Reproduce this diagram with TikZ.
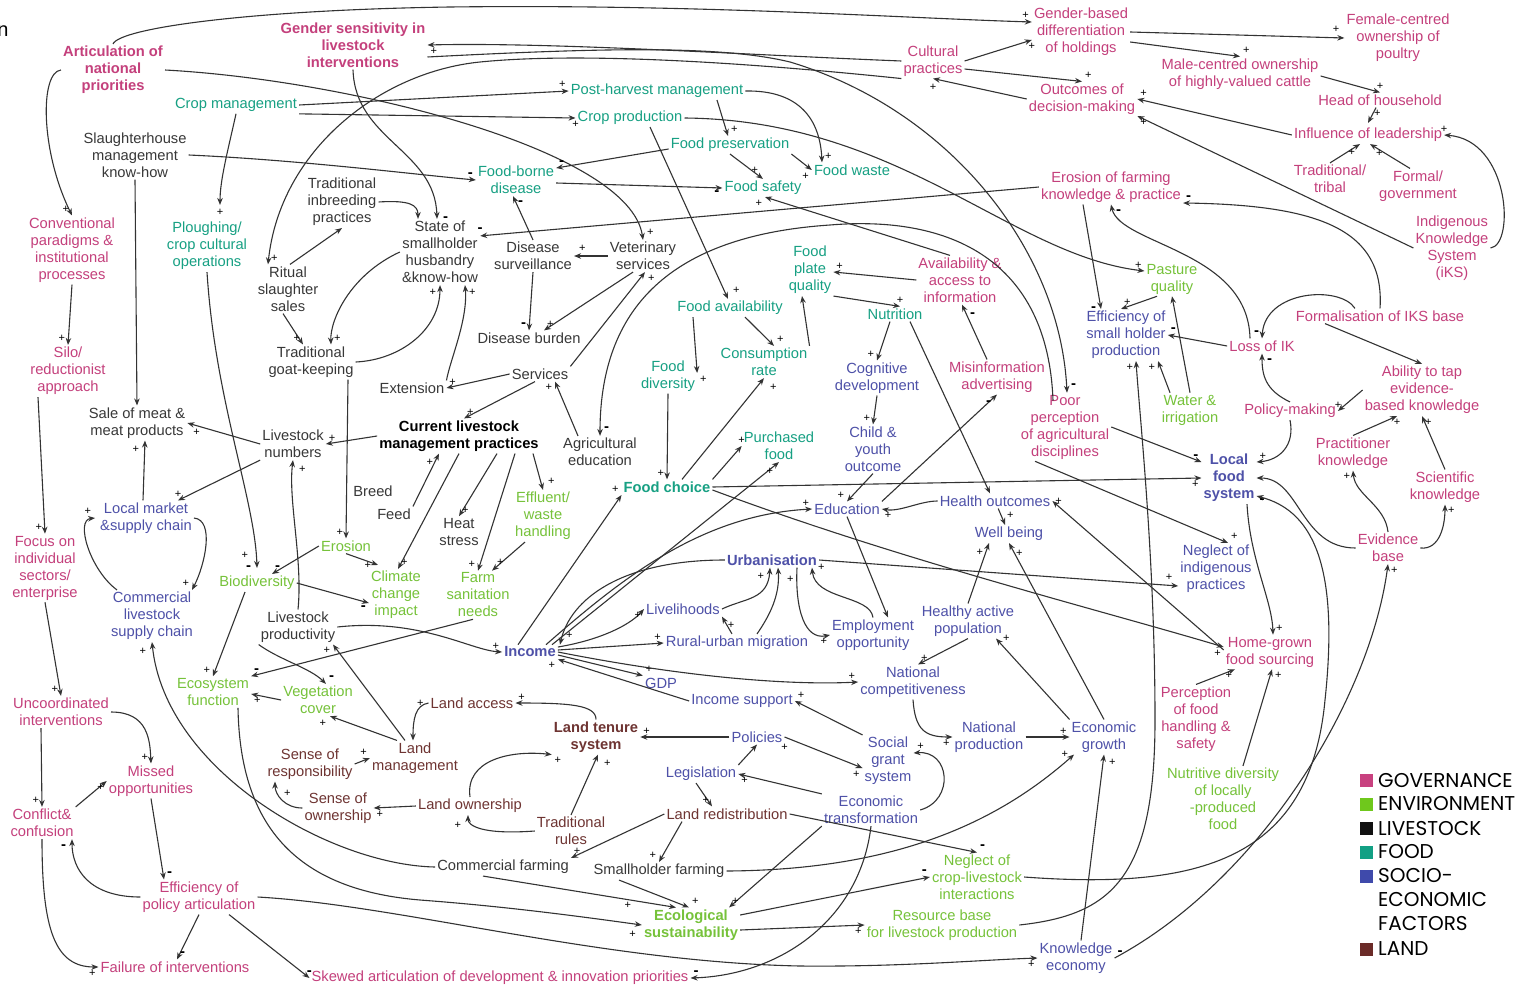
\documentclass[tikz,border=0pt]{standalone}
\usepackage{fontspec}
\setmainfont{Liberation Sans}
\newfontfamily\legendfont{Poppins}
\usetikzlibrary{arrows.meta}
\definecolor{gov}{HTML}{C4407C}
\definecolor{env}{HTML}{76C23A}
\definecolor{liv}{HTML}{383838}
\definecolor{food}{HTML}{17A083}
\definecolor{soc}{HTML}{4E51A8}
\definecolor{land}{HTML}{6E3432}
\definecolor{lgov}{HTML}{C8417F}
\definecolor{lenv}{HTML}{6FC81C}
\definecolor{lliv}{HTML}{111111}
\definecolor{lfood}{HTML}{12A084}
\definecolor{lsoc}{HTML}{3F4AAB}
\definecolor{lland}{HTML}{6B2B28}
\definecolor{arc}{HTML}{333333}
\begin{document}
\begin{tikzpicture}[x=1pt,y=-1pt,
  nd/.style={inner sep=2pt, align=center, font=\fontsize{14.7}{17}\selectfont},
  ndb/.style={inner sep=2pt, align=center, font=\fontsize{14.7}{17}\selectfont\bfseries},
  gv/.style={nd,text=gov}, gvb/.style={ndb,text=gov},
  ev/.style={nd,text=env}, evb/.style={ndb,text=env},
  fd/.style={nd,text=food}, fdb/.style={ndb,text=food},
  lv/.style={nd,text=liv}, lvb/.style={ndb,text=black},
  se/.style={nd,text=soc}, seb/.style={ndb,text=soc},
  ld/.style={nd,text=land}, ldb/.style={ndb,text=land},
  ar/.style={draw=arc, line width=1.1pt, -{Stealth[length=7pt,width=5.5pt]}},
  pl/.style={inner sep=1pt, outer sep=2pt, text=black, font=\fontsize{11}{11}\selectfont},
  mi/.style={inner sep=1pt, outer sep=2pt, text=black, font=\fontsize{15}{15}\selectfont\bfseries},
  lgsq/.style={minimum size=13pt, inner sep=0pt},
  lgtx/.style={inner sep=0pt, anchor=west, align=left, text=black, font=\fontsize{20}{24}\legendfont}
]
\fill[white] (0,0) rectangle (1522,990);
\useasboundingbox (0,0) rectangle (1522,990);

\node[inner sep=0pt, font=\fontsize{20}{20}\selectfont] (frag) at (3,31) {n};

% ---------- governance ----------
\node[gvb] (artic) at (113,70) {Articulation of\\national\\priorities};
\node[gvb] (gendsens) at (353,45) {Gender sensitivity in\\livestock\\interventions};
\node[gv] (gendbased) at (1081,32) {Gender-based\\differentiation\\of holdings};
\node[gv] (female) at (1398,38) {Female-centred\\ownership of\\poultry};
\node[gv] (cultural) at (933,61) {Cultural\\practices};
\node[gv] (male) at (1240,74) {Male-centred ownership\\of highly-valued cattle};
\node[gv] (outcomes) at (1082,99) {Outcomes of\\decision-making};
\node[gv] (head) at (1380,100) {Head of household};
\node[gv] (influence) at (1368,135) {Influence of leadership};
\node[gv] (tradtribal) at (1330,179) {Traditional/\\tribal};
\node[gv] (formal) at (1418,186) {Formal/\\government};
\node[gv] (erosionfk) at (1111,187) {Erosion of farming\\knowledge \& practice};
\node[gv] (iks) at (1452,248) {Indigenous\\Knowledge\\System\\(iKS)};
\node[gv] (formiks) at (1380,316) {Formalisation of IKS base};
\node[gv] (lossik) at (1262,346) {Loss of IK};
\node[gv] (policymk) at (1290,411) {Policy-making};
\node[gv] (ability) at (1422,390) {Ability to tap\\evidence-\\based knowledge};
\node[gv] (practk) at (1353,453) {Practitioner\\knowledge};
\node[gv] (scik) at (1445,487) {Scientific\\knowledge};
\node[gv] (evid) at (1388,548) {Evidence\\base};
\node[gv] (homegrown) at (1270,652) {Home-grown\\food sourcing};
\node[gv] (percep) at (1196,719) {Perception\\of food\\handling \&\\safety};
\node[gv] (avail) at (960,280) {Availability \&\\access to\\information};
\node[gv] (misinfo) at (997,377) {Misinformation\\advertising};
\node[gv] (poorperc) at (1065,427) {Poor\\perception\\of agricultural\\disciplines};
\node[gv] (conv) at (72,250) {Conventional\\paradigms \&\\institutional\\processes};
\node[gv] (silo) at (68,371) {Silo/\\reductionist\\approach};
\node[gv] (focus) at (45,568) {Focus on\\individual\\sectors/\\enterprise};
\node[gv] (uncoord) at (61,712) {Uncoordinated\\interventions};
\node[gv] (missed) at (151,781) {Missed\\opportunities};
\node[gv] (conflict) at (42,823) {Conflict\&\\confusion};
\node[gv] (effpol) at (199,897) {Efficiency of\\policy articulation};
\node[gv] (failure) at (175,967) {Failure of interventions};
\node[gv] (skewed) at (500,978) {Skewed articulation of development \& innovation priorities};

% ---------- environment ----------
\node[ev] (pasture) at (1172,279) {Pasture\\quality};
\node[ev] (water) at (1190,410) {Water \&\\irrigation};
\node[ev] (effluent) at (543,516) {Effluent/\\waste\\handling};
\node[ev] (erosion) at (346,546) {Erosion};
\node[ev] (biodiv) at (257,583) {Biodiversity};
\node[ev] (climate) at (396,595) {Climate\\change\\impact};
\node[ev] (farmsan) at (478,595) {Farm\\sanitation\\needs};
\node[ev] (ecofunc) at (213,692) {Ecosystem\\function};
\node[ev] (vegcov) at (318,700) {Vegetation\\cover};
\node[evb] (ecosust) at (691,925) {Ecological\\sustainability};
\node[ev] (neglectcl) at (977,877) {Neglect of\\crop-livestock\\interactions};
\node[ev] (resbase) at (942,925) {Resource base\\for livestock production};
\node[ev] (nutdiv) at (1223,799) {Nutritive diversity\\of locally\\-produced\\food};

% ---------- food ----------
\node[fd] (cropmgmt) at (236,105) {Crop management};
\node[fd] (postharv) at (657,91) {Post-harvest management};
\node[fd] (cropprod) at (630,118) {Crop production};
\node[fd] (foodpres) at (730,145) {Food preservation};
\node[fd] (foodborne) at (516,180) {Food-borne\\disease};
\node[fd] (foodwaste) at (852,170) {Food waste};
\node[fd] (foodsafety) at (763,188) {Food safety};
\node[fd] (plough) at (207,246) {Ploughing/\\crop cultural\\operations};
\node[fd] (plate) at (810,270) {Food\\plate\\quality};
\node[fd] (nutrition) at (895,314) {Nutrition};
\node[fd] (foodavail) at (730,308) {Food availability};
\node[fd] (consump) at (764,362) {Consumption\\rate};
\node[fd] (fooddiv) at (668,376) {Food\\diversity};
\node[fd] (purchased) at (779,446) {Purchased\\food};
\node[fdb] (foodchoice) at (667,487) {Food choice};

% ---------- livestock ----------
\node[lv] (slaughter) at (135,155) {Slaughterhouse\\management\\know-how};
\node[lv] (inbreed) at (342,202) {Traditional\\inbreeding\\practices};
\node[lv] (stateshh) at (440,252) {State of\\smallholder\\husbandry\\\&know-how};
\node[lv] (disurv) at (533,256) {Disease\\surveillance};
\node[lv] (vet) at (643,256) {Veterinary\\services};
\node[lv] (ritual) at (288,289) {Ritual\\slaughter\\sales};
\node[lv] (disburden) at (529,338) {Disease burden};
\node[lv] (goat) at (311,362) {Traditional\\goat-keeping};
\node[lv] (extension) at (412,388) {Extension};
\node[lv] (services) at (540,374) {Services};
\node[lv] (salemeat) at (137,423) {Sale of meat \&\\meat products};
\node[lv] (lsnum) at (293,444) {Livestock\\numbers};
\node[lvb] (current) at (459,436) {Current livestock\\management practices};
\node[lv] (agedu) at (600,452) {Agricultural\\education};
\node[lv] (breed) at (373,491) {Breed};
\node[lv] (feed) at (394,514) {Feed};
\node[lv] (heat) at (459,532) {Heat\\stress};
\node[lv] (lsprod) at (298,627) {Livestock\\productivity};
\node[lv] (commfarm) at (503,867) {Commercial farming};
\node[lv] (smallfarm) at (659,871) {Smallholder farming};

% ---------- socio-economic ----------
\node[se] (effsh) at (1126,335) {Efficiency of\\small holder\\production};
\node[se] (cognitive) at (877,378) {Cognitive\\development};
\node[se] (child) at (873,449) {Child \&\\youth\\outcome};
\node[seb] (localfood) at (1229,478) {Local\\food\\system};
\node[se] (health) at (995,501) {Health outcomes};
\node[se] (education) at (847,509) {Education};
\node[se] (wellbeing) at (1009,534) {Well being};
\node[se] (neglectind) at (1216,569) {Neglect of\\indigenous\\practices};
\node[se] (localmkt) at (146,518) {Local market\\\&supply chain};
\node[se] (commls) at (152,616) {Commercial\\livestock\\supply chain};
\node[seb] (urban) at (772,560) {Urbanisation};
\node[se] (livelihoods) at (683,609) {Livelihoods};
\node[se] (ruralurban) at (737,643) {Rural-urban migration};
\node[se] (employment) at (873,635) {Employment\\opportunity};
\node[se] (healthy) at (968,621) {Healthy active\\population};
\node[seb] (income) at (530,652) {Income};
\node[se] (natcomp) at (913,682) {National\\competitiveness};
\node[se] (gdp) at (661,683) {GDP};
\node[se] (incsupp) at (742,701) {Income support};
\node[se] (natprod) at (989,737) {National\\production};
\node[se] (econgrowth) at (1104,737) {Economic\\growth};
\node[se] (policies) at (757,737) {Policies};
\node[se] (socgrant) at (888,761) {Social\\grant\\system};
\node[se] (legislation) at (701,774) {Legislation};
\node[se] (econtrans) at (871,810) {Economic\\transformation};
\node[se] (knowecon) at (1076,958) {Knowledge\\economy};

% ---------- land ----------
\node[ld] (landaccess) at (472,703) {Land access};
\node[ldb] (landtenure) at (596,737) {Land tenure\\system};
\node[ld] (landmgmt) at (415,758) {Land\\management};
\node[ld] (senseresp) at (310,764) {Sense of\\responsibility};
\node[ld] (senseown) at (338,808) {Sense of\\ownership};
\node[ld] (landown) at (470,806) {Land ownership};
\node[ld] (tradrules) at (571,831) {Traditional\\rules};
\node[ld] (landredis) at (727,814) {Land redistribution};

% ---------- legend ----------
\node[lgsq, fill=lgov] (sq1) at (1366,780) {};
\node[lgsq, fill=lenv] (sq2) at (1366,804) {};
\node[lgsq, fill=lliv] (sq3) at (1366,828) {};
\node[lgsq, fill=lfood] (sq4) at (1366,852) {};
\node[lgsq, fill=lsoc] (sq5) at (1366,876) {};
\node[lgsq, fill=lland] (sq6) at (1366,949) {};
\node[lgtx] (lg1) at (1378,780) {GOVERNANCE};
\node[lgtx] (lg2) at (1378,804) {ENVIRONMENT};
\node[lgtx] (lg3) at (1378,828) {LIVESTOCK};
\node[lgtx] (lg4) at (1378,852) {FOOD};
\node[lgtx, anchor=north west] (lg5) at (1378,868) {SOCIO-\\ECONOMIC\\FACTORS};
\node[lgtx] (lg6) at (1378,949) {LAND};

% ================= connectors =================
% top / governance
\draw[ar] (artic.north) .. controls (120,28) and (250,10) .. (450,7) .. controls (700,4) and (900,18) .. ([yshift=10pt]gendbased.west) node[pl,above left]{+};
\draw[ar] (artic.east) .. controls (350,80) and (630,150) .. (vet.north) node[pl,above right=1pt]{+};
\draw[ar] (gendsens.south) .. controls (355,140) and (435,150) .. ([xshift=-3pt]stateshh.north) node[mi,right=3pt]{-};
\draw[ar] (cultural.west) .. controls (750,55) and (550,42) .. (gendsens.east) node[pl,below right]{+};
\draw[ar] (cultural.south west) .. controls (800,68) and (600,50) .. (480,62) .. controls (380,72) and (280,150) .. ([xshift=-20pt]ritual.north) node[pl,above right]{+};
\draw[ar] ([yshift=-12pt]gendsens.east) .. controls (600,48) and (720,45) .. (790,62) .. controls (950,110) and (1060,250) .. ([xshift=2pt]poorperc.north) node[mi,above right=1pt]{-};
\draw[ar] (cultural.east) -- ([yshift=-8pt]gendbased.west) node[pl,below]{+};
\draw[ar] ([yshift=-8pt]cultural.east) -- (outcomes.north) node[pl,above right]{+};
\draw[ar] (outcomes.west) -- (cultural.south) node[pl,below=3pt]{+};
\draw[ar] (gendbased.east) -- (female.west) node[pl,above left=2pt]{+};
\draw[ar] ([yshift=-10pt]gendbased.east) -- (male.north) node[pl,above right]{+};
\draw[ar] ([yshift=-2pt]male.east) -- (head.north) node[pl,above]{+};
\draw[ar] (head) -- ([yshift=3pt]influence.north) node[pl,above right=3pt]{+};
\draw[ar] (influence.west) -- (outcomes.east) node[pl,above right]{+};
\draw[ar] (tradtribal.north) -- ([xshift=-8pt]influence.south) node[pl,below left=2pt]{+};
\draw[ar] ([xshift=-8pt]formal.north) -- ([xshift=2pt]influence.south) node[pl,below right=3pt]{+};
\draw[ar] (iks.west) -- ([yshift=-17pt]outcomes.east) node[pl,below right]{+};
\draw[ar] (iks.east) .. controls (1515,245) and (1510,140) .. (influence.east) node[pl,above]{+};
\draw[ar] (formiks.north) .. controls (1385,230) and (1320,205) .. ([yshift=-16pt]erosionfk.east) node[mi,above right]{-};
\draw[ar] ([xshift=-25pt]formiks.north) .. controls (1340,285) and (1265,290) .. (lossik.north) node[mi,above left]{-};
\draw[ar] ([xshift=-55pt]formiks.south) -- (ability.north);
\draw[ar] ([xshift=-12pt]lossik.north) .. controls (1248,250) and (1120,245) .. (erosionfk.south) node[mi,below right=2pt]{-};
\draw[ar] (lossik.west) -- (effsh.east) node[mi,above right]{-};
\draw[ar] ([xshift=-28pt]erosionfk.south) -- ([xshift=-25pt]effsh.north) node[mi,left=2pt]{-};
\draw[ar] ([xshift=-15pt]pasture.south) -- ([xshift=-5pt]effsh.north) node[pl,above right]{+};
\draw[ar] ([xshift=-20pt]water.north) -- ([xshift=32pt]effsh.south) node[pl,below left]{+};
\draw[ar] (water.north) -- (pasture.south);
\draw[ar] (cropprod.east) .. controls (900,120) and (1010,255) .. ([yshift=8pt]pasture.west) node[pl,above left]{+};

% food
\draw[ar] (postharv.east) .. controls (800,90) and (820,120) .. ([xshift=-30pt]foodwaste.north) node[pl,above right]{+};
\draw[ar] ([xshift=60pt]postharv.south) -- ([xshift=-2pt]foodpres.north) node[pl,above right]{+};
\draw[ar] ([xshift=20pt]cropprod.south) -- ([xshift=-2pt]foodavail.north) node[pl,above right=2pt]{+};
\draw[ar] (cropmgmt.east) -- (postharv.west) node[pl,above left]{+};
\draw[ar] (cropmgmt.south east) -- (cropprod.west) node[pl,below]{+};
\draw[ar] (cropmgmt.south) .. controls (228,150) and (220,180) .. ([xshift=13pt,yshift=15pt]plough.north) node[pl,below=1pt]{+};
\draw[ar] (slaughter.east) .. controls (300,160) and (420,175) .. (foodborne.west) node[mi,above left]{-};
\draw[ar] (slaughter.south) -- (salemeat.north);
\draw[ar] ([yshift=-4pt]foodpres.west) -- ([yshift=12pt]foodborne.east) node[mi,above right]{-};
\draw[ar] ([yshift=-3pt]foodborne.east) -- (foodsafety.west) node[mi,below left]{-};
\draw[ar] (foodpres.south) -- (foodsafety.north) node[pl,above left=2pt]{+};
\draw[ar] (foodpres.south east) -- (foodwaste.west) node[pl,below left]{+};
\draw[ar] ([xshift=-10pt]avail.north) -- ([xshift=2pt]foodsafety.south) node[pl,below left]{+};
\draw[ar] (erosionfk.west) -- ([yshift=-17pt]stateshh.north east) node[mi,above]{-};
\draw[ar] (inbreed.east) .. controls (410,200) and (418,205) .. ([xshift=-22pt]stateshh.north);
\draw[ar] ([xshift=2pt]ritual.north) -- (inbreed.south);
\draw[ar] (vet.west) -- (disurv.east) node[pl,above right=2pt]{+};
\draw[ar] (disurv.north) -- ([xshift=-3pt]foodborne.south) node[mi,below right=2pt]{-};
\draw[ar] (disurv.south) -- (disburden.north) node[mi,above left]{-};
\draw[ar] ([xshift=-10pt]vet.south) -- ([xshift=15pt]disburden.north) node[pl,above right]{+};
\draw[ar] (services.north east) -- ([xshift=2pt]vet.south) node[pl,below right]{+};
\draw[ar] (services.west) -- (extension.east) node[pl,above right]{+};
\draw[ar] ([xshift=-5pt]services.south) -- ([xshift=5pt]current.north) node[pl,above right]{+};
\draw[ar] ([xshift=-22pt]agedu.north) -- ([xshift=15pt]services.south) node[pl,below left]{+};
\draw[ar] ([yshift=-8pt,xshift=-12pt]poorperc.north) .. controls (1048,260) and (950,215) .. (830,225) .. controls (680,235) and (600,300) .. (agedu.north) node[mi,above right=1pt]{-};
\draw[ar] (extension.north east) .. controls (450,360) and (468,320) .. ([xshift=25pt]stateshh.south) node[pl,below right=1pt]{+};
\draw[ar] (goat.east) .. controls (400,360) and (440,330) .. (stateshh.south) node[pl,below left=1pt]{+};
\draw[ar] (stateshh.west) .. controls (350,275) and (330,320) .. ([xshift=20pt]goat.north) node[pl,above right]{+};
\draw[ar] ([xshift=-5pt]ritual.south) -- ([xshift=-8pt]goat.north) node[pl,above left]{+};
\draw[ar] ([xshift=37pt]goat.south) -- (erosion.north) node[pl,above left]{+};
\draw[ar] (current.west) -- (lsnum.east) node[pl,above right]{+};
\draw[ar] (lsnum.west) -- (salemeat.east) node[pl,below right=3pt]{+};
\draw[ar] (lsnum.south west) -- ([xshift=-16pt]localmkt.north east) node[pl,above]{+};
\draw[ar] ([xshift=-3pt]localmkt.north) -- ([xshift=8pt]salemeat.south) node[pl,below left=3pt]{+};
\draw[ar] (localmkt.east) .. controls (215,520) and (205,565) .. ([xshift=40pt]commls.north) node[pl,above left]{+};
\draw[ar] ([xshift=-35pt]commls.north) .. controls (90,570) and (75,520) .. ([xshift=-3pt]localmkt.west) node[pl,above left=1pt]{+};
\draw[ar] (lsprod.north) .. controls (303,560) and (288,500) .. (lsnum.south) node[pl,below right=3pt]{+};
\draw[ar] (plough.south) .. controls (215,400) and (255,500) .. ([yshift=6pt]biodiv.north) node[pl,above left=6pt]{+} node[mi,left=3pt]{-};
\draw[ar] (erosion.west) -- ([xshift=15pt]biodiv.north) node[mi,above right]{-};
\draw[ar] (erosion.south) -- ([xshift=-18pt,yshift=4pt]climate.north) node[pl,left=4pt]{+};
\draw[ar] (biodiv.east) -- ([yshift=-8pt]climate.west) node[mi,below left]{-};
\draw[ar] (current.south) -- ([xshift=2pt]climate.north) node[pl,above right]{+};
\draw[ar] ([xshift=38pt]current.south) -- (heat.north) node[pl,above right]{+};
\draw[ar] ([xshift=56pt]current.south) -- (farmsan.north) node[pl,above left]{+};
\draw[ar] ([xshift=74pt]current.south) -- (effluent.north) node[pl,above right=2pt]{+};
\draw[ar] ([xshift=-18pt]effluent.south) -- ([xshift=14pt]farmsan.north) node[pl,above right=2pt]{+};
\draw[ar] (feed.north east) -- ([xshift=-20pt]current.south) node[pl,below left=3pt]{+};
\draw[ar] (lsprod.east) .. controls (420,618) and (470,650) .. (income.west) node[pl,above left]{+};
\draw[ar] ([xshift=-5pt]farmsan.south) -- (ecofunc.north east) node[mi,above right]{-};
\draw[ar] (lsprod.south west) .. controls (280,660) and (310,668) .. ([xshift=8pt]vegcov.north) node[mi,above right]{-};
\draw[ar] ([xshift=-12pt]biodiv.south) -- (ecofunc.north) node[pl,above left]{+};
\draw[ar] (vegcov.west) -- ([yshift=-2pt]ecofunc.east) node[pl,below right]{+};
\draw[ar] ([xshift=-18pt]landmgmt.north) -- ([xshift=12pt]vegcov.south) node[pl,below left=1pt]{+};
\draw[ar] ([xshift=-10pt]landmgmt.north) -- ([xshift=35pt]lsprod.south) node[pl,below left]{+};
\draw[ar] ([xshift=25pt]ecofunc.south) .. controls (240,830) and (300,890) .. (420,900) .. controls (500,906) and (570,915) .. (ecosust.west) node[pl,below left=3pt]{+};
\draw[ar] (effpol.east) .. controls (400,905) and (600,962) .. (800,966) .. controls (900,967) and (980,960) .. (knowecon.west) node[pl,below left]{+};
\draw[ar] (commfarm.west) .. controls (330,865) and (165,770) .. (commls.south) node[pl,below left=3pt]{+};
\draw[ar] ([xshift=-20pt]commfarm.south) -- node[pl,pos=.75,below]{+} ([xshift=-15pt]ecosust.north);
\draw[ar] ([xshift=-40pt]smallfarm.south) -- ([xshift=-2pt]ecosust.north) node[pl,above right]{+};
\draw[ar] (econtrans.south west) -- ([xshift=38pt]ecosust.north) node[pl,above right]{+};
\draw[ar] (smallfarm.east) .. controls (900,870) and (1000,820) .. ([xshift=-30pt]econgrowth.south) node[pl,left=3pt]{+};
\draw[ar] ([yshift=10pt]ecosust.east) -- (neglectcl.west) node[mi,above left]{-};
\draw[ar] (landredis.east) -- (neglectcl.north) node[mi,above right]{-};
\draw[ar] ([yshift=-5pt]ecosust.east) -- (resbase.west) node[pl,below left]{+};
\draw[ar] (resbase.east) .. controls (1110,915) and (1155,880) .. (1155,720) .. controls (1155,560) and (1140,420) .. ([xshift=10pt]effsh.south) node[pl,below left]{+};
\draw[ar] (neglectcl.east) .. controls (1200,890) and (1310,860) .. (1325,700) .. controls (1340,560) and (1310,510) .. ([yshift=-18pt]localfood.east) node[mi,below right]{-};
\draw[ar] ([xshift=5pt]knowecon.north) -- (econgrowth.south) node[pl,below right=2pt]{+};
\draw[ar] (knowecon.east) node[mi,above right]{-} .. controls (1260,880) and (1370,700) .. (evid.south) node[pl,below right]{+};
\draw[ar] (econtrans.south) .. controls (860,920) and (780,975) .. (skewed.east) node[mi,above right]{-};
\draw[ar] ([xshift=30pt]effpol.south) -- (skewed.west) node[mi,above]{-};
\draw[ar] (effpol.south) -- ([xshift=2pt]failure.north) node[mi,above right]{-};
\draw[ar] (effpol.west) .. controls (90,897) and (72,870) .. ([xshift=30pt]conflict.south) node[mi,below left=3pt]{-};
\draw[ar] (conflict.south) .. controls (42,930) and (55,967) .. (failure.west) node[pl,below left]{+};
\draw[ar] (missed.south) -- ([xshift=-35pt]effpol.north) node[mi,above right]{-};
\draw[ar] (conflict.north east) -- (missed.west) node[pl,below left]{+};
\draw[ar] (uncoord.east) .. controls (148,712) and (150,740) .. (missed.north) node[pl,above left]{+};
\draw[ar] ([xshift=-20pt]uncoord.south) -- (conflict.north) node[pl,above left]{+};
\draw[ar] (focus.south) -- (uncoord.north) node[pl,above left]{+};
\draw[ar] ([xshift=-30pt]silo.south) -- (focus.north) node[pl,above left]{+};
\draw[ar] (conv.south) -- (silo.north) node[pl,above left]{+};
\draw[ar] (artic.west) .. controls (40,72) and (40,150) .. (conv.north) node[pl,above left]{+};

% land
\draw[ar] (landtenure.north) .. controls (596,705) and (570,703) .. (landaccess.east) node[pl,above right]{+};
\draw[ar] (landaccess.west) node[pl,left=2pt]{+} .. controls (415,705) and (413,720) .. ([xshift=-2pt]landmgmt.north);
\draw[ar] (senseresp.east) -- (landmgmt.west) node[pl,above left]{+};
\draw[ar] (senseown.west) .. controls (285,808) and (275,795) .. ([xshift=-35pt]senseresp.south) node[pl,below right=6pt]{+};
\draw[ar] (landown.west) -- (senseown.east) node[pl,below right]{+};
\draw[ar] (landown.north) .. controls (465,760) and (510,750) .. (landtenure.south west) node[pl,below right]{+};
\draw[ar] (tradrules.west) .. controls (480,835) and (468,825) .. ([xshift=-2pt]landown.south) node[pl,below left=4pt]{+};
\draw[ar] (tradrules.north) -- ([xshift=2pt]landtenure.south) node[pl,below right=3pt]{+};
\draw[ar] (policies.west) -- (landtenure.east) node[pl,above right]{+};
\draw[ar] (legislation.north east) -- (policies.south);
\draw[ar] ([xshift=-5pt]legislation.south) -- ([xshift=-15pt]landredis.north) node[pl,above left]{+};
\draw[ar] (econtrans.north west) -- (legislation.east) node[pl,below right]{+};
\draw[ar] (landredis.west) -- (commfarm.north east) node[pl,above right]{+};
\draw[ar] ([xshift=-45pt]landredis.south) -- (smallfarm.north) node[pl,above left]{+};
\draw[ar] (policies.east) node[pl,below=4pt]{+} -- ([yshift=-7pt]socgrant.west) node[pl,below left]{+};
\draw[ar] (econtrans.east) .. controls (955,800) and (950,750) .. ([yshift=8pt]socgrant.east) node[pl,above right=1pt]{+};

% socio-economic
\draw[ar] (socgrant.north west) -- (incsupp.east) node[pl,above right]{+};
\draw[ar] (incsupp.west) -- (income.south east) node[pl,below left]{+};
\draw[ar] ([yshift=-3pt]income.east) -- (gdp.north west) node[pl,above right]{+};
\draw[ar] (income.east) .. controls (700,680) and (800,685) .. (natcomp.west) node[pl,above left]{+};
\draw[ar] ([yshift=2pt]income.east) -- (ruralurban.west) node[pl,above left]{+};
\draw[ar] ([yshift=5pt]income.east) .. controls (600,640) and (630,625) .. (livelihoods.west) node[pl,below left]{+};
\draw[ar] (urban.west) .. controls (620,560) and (570,600) .. ([xshift=30pt]income.north) node[pl,above right=3pt]{+};
\draw[ar] ([xshift=-12pt]income.north) -- ([yshift=-8pt]foodchoice.west) node[pl,above left]{+};
\draw[ar] ([xshift=22pt]income.north) -- (purchased.south) node[pl,below left=3pt]{+};
\draw[ar] ([xshift=16pt]income.north) .. controls (620,580) and (700,515) .. (education.west) node[pl,above left]{+};
\draw[ar] (livelihoods.east) .. controls (745,598) and (768,600) .. ([xshift=-2pt]urban.south) node[pl,below left=3pt]{+};
\draw[ar] ([xshift=20pt]ruralurban.north) .. controls (770,615) and (780,595) .. ([xshift=6pt]urban.south) node[pl,below right=6pt]{+};
\draw[ar] ([xshift=-5pt]ruralurban.north) -- (livelihoods.south east) node[pl,below right=3pt]{+};
\draw[ar] ([xshift=25pt]urban.south) .. controls (795,610) and (805,640) .. (employment.west) node[pl,below left]{+};
\draw[ar] (employment.north) .. controls (870,595) and (815,600) .. ([xshift=40pt]urban.south) node[pl,right=3pt]{+};
\draw[ar] (urban.east) -- ([yshift=-17pt]neglectind.west) node[pl,above left=3pt]{+};
\draw[ar] (healthy.south) -- ([xshift=5pt]natcomp.north) node[pl,above right]{+};
\draw[ar] (natcomp.south) .. controls (915,730) and (925,737) .. (natprod.west) node[pl,below left]{+};
\draw[ar] (natprod.east) -- (econgrowth.west) node[pl,above left]{+};
\draw[ar] (econgrowth.north west) -- ([xshift=28pt]healthy.south) node[pl,right=4pt]{+};
\draw[ar] (econgrowth.north) -- (wellbeing.south) node[pl,below right=4pt]{+};
\draw[ar] (healthy.north) -- ([xshift=-20pt]wellbeing.south) node[pl,below left=3pt]{+};
\draw[ar] (health) -- node[pl,pos=.4,right=3pt]{+} (wellbeing);
\draw[ar] (health.west) .. controls (920,501) and (900,512) .. (education.east) node[pl,below right]{+};
\draw[ar] (education.south) -- ([xshift=15pt]employment.north);
\draw[ar] (education.north east) -- (misinfo.south) node[mi,below left=3pt]{-};
\draw[ar] (child.south) -- (education.north) node[pl,above left]{+};
\draw[ar] (cognitive.south) -- (child.north) node[pl,above left]{+};
\draw[ar] ([xshift=-5pt]nutrition.south) -- (cognitive.north) node[pl,above left]{+};
\draw[ar] ([xshift=15pt]nutrition.south) -- ([xshift=-5pt]health.north);
\draw[ar] (plate.south east) -- ([xshift=5pt]nutrition.north) node[pl,above]{+};
\draw[ar] (avail.west) -- ([yshift=-2pt]plate.east) node[pl,above right]{+};
\draw[ar] ([xshift=-10pt]misinfo.north) -- ([xshift=2pt]avail.south) node[mi,below right=5pt]{-};
\draw[ar] (consump.north east) -- ([xshift=-8pt]plate.south);
\draw[ar] ([xshift=15pt]foodavail.south) -- ([xshift=10pt]consump.north) node[pl,above right]{+};
\draw[ar] ([xshift=-37pt]foodavail.south) -- ([yshift=3pt]fooddiv.east) node[pl,below right]{+};
\draw[ar] (fooddiv.south) -- (foodchoice.north) node[pl,above left]{+};
\draw[ar] ([xshift=15pt]foodchoice.north) -- (consump.south) node[pl,below right=3pt]{+};
\draw[ar] (foodchoice.north east) -- (purchased.west) node[pl,above]{+};
\draw[ar] (foodchoice.east) -- (localfood.west) node[pl,below left]{+};
\draw[ar] ([yshift=-3pt]foodchoice.east) .. controls (900,560) and (1100,610) .. ([yshift=5pt]homegrown.west) node[pl,below left]{+};
\draw[ar] ([yshift=2pt]homegrown.west) -- (health.east) node[pl,right]{+};
\draw[ar] (poorperc.east) -- ([yshift=16pt]localfood.west) node[mi,above left]{-};
\draw[ar] ([xshift=-30pt]poorperc.south) -- ([xshift=12pt]neglectind.north) node[pl,above right]{+};
\draw[ar] (policymk.south) .. controls (1295,445) and (1280,460) .. ([yshift=16pt]localfood.east) node[pl,above right]{+};
\draw[ar] (policymk.north) .. controls (1265,390) and (1262,375) .. (lossik.south) node[mi,below right=2pt]{-};
\draw[ar] (ability.west) -- (policymk.east) node[pl,above]{+};
\draw[ar] (practk.north) -- ([xshift=-25pt]ability.south) node[pl,below]{+};
\draw[ar] (scik.north) -- (ability.south) node[pl,below right]{+};
\draw[ar] (evid.north) .. controls (1385,505) and (1355,495) .. (practk.south) node[pl,below left]{+};
\draw[ar] (evid.east) .. controls (1440,550) and (1445,525) .. (scik.south) node[pl,below right]{+};
\draw[ar] (evid.west) .. controls (1300,548) and (1300,478) .. (localfood.east);
\draw[ar] ([xshift=18pt]localfood.south) .. controls (1250,560) and (1272,600) .. ([xshift=3pt]homegrown.north) node[pl,above right]{+};
\draw[ar] (percep.north) -- ([xshift=-35pt]homegrown.south) node[pl,below left]{+};
\draw[ar] ([xshift=20pt]nutdiv.north) -- ([xshift=2pt]homegrown.south) node[pl,below right]{+};
\end{tikzpicture}
\end{document}
